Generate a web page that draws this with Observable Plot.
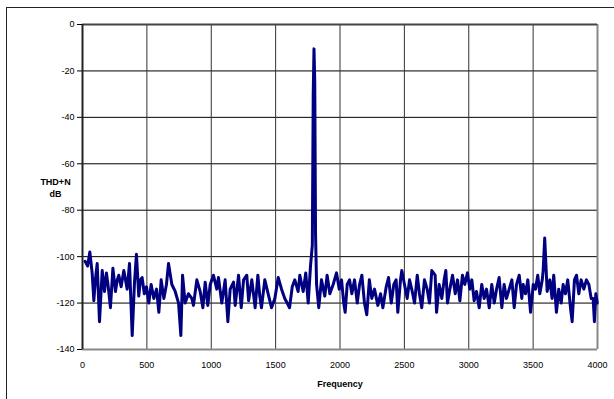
<!DOCTYPE html>
<html>
<head>
<meta charset="utf-8">
<script src="https://cdn.jsdelivr.net/npm/d3@7"></script>
<script src="https://cdn.jsdelivr.net/npm/@observablehq/plot@0.6"></script>
<style>
  html, body { margin: 0; padding: 0; background: #fff; overflow: hidden; }
  #wrap { position: relative; width: 614px; height: 399px; overflow: hidden; }
  #frame { position: absolute; left: 6px; top: 7px; width: 620px; height: 420px; border: 1.5px solid #222; box-sizing: border-box; }
  #chart { position: absolute; left: 0; top: 0; }
</style>
</head>
<body>
<div id="wrap"><div id="frame"></div><div id="chart"></div></div>
<script>
const freq = [20,40,57,75,88,100,114,132,153,171,186,200,217,236,256,270,282,300,321,347,365,386,404,419,437,450,463,480,497,
515,533,554,575,593,611,632,652,668,694,720,746,764,777,797,823,849,862,888,914,935,953,973,992,
1017,1043,1056,1082,1108,1129,1147,1173,1186,1212,1233,1251,1276,1290,1315,1341,1362,1377,1390,1416,1442,1468,1494,
1520,1546,1571,1590,1608,1629,1649,1675,1688,1714,1734,1753,1771,1785,1792,1798,1804,1810,1818,1835,1856,1882,1900,
1921,1947,1973,1994,2012,2029,2040,2056,2074,2092,2113,2134,2152,2170,2190,2208,2228,2247,2268,2294,2315,2333,2359,
2377,2398,2418,2436,2449,2470,2480,2501,2522,2540,2561,2579,2600,2617,2635,2656,2677,2695,2713,2739,2750,2770,2791,
2809,2822,2835,2853,2874,2895,2913,2931,2951,2969,2990,3008,3024,3042,3060,3081,3101,3120,3138,3159,3179,3198,3216,
3236,3257,3275,3293,3314,3335,3353,3371,3392,3412,3423,3441,3459,3480,3501,3518,3536,3552,3571,3578,3590,3599,3609,
3630,3647,3660,3681,3699,3718,3733,3751,3769,3790,3803,3821,3837,3855,3873,3894,3914,3933,3951,3966,3976,3987,3998];
const thdn = [-102,-104,-98,-107,-119,-110,-103,-128,-106,-115,-107,-113,-122,-105,-115,-110,-108,-113,-106,-114,-103,-134,-111,-99,-117,-110,-109,-116,-113,
-120,-112,-118,-114,-124,-110,-118,-112,-103,-112,-115,-120,-134,-108,-120,-116,-118,-121,-110,-115,-122,-111,-121,-112,
-108,-114,-109,-120,-110,-128,-114,-111,-121,-108,-122,-110,-108,-119,-110,-122,-108,-117,-122,-110,-116,-122,-118,
-109,-114,-118,-120,-122,-113,-110,-115,-108,-115,-107,-120,-104,-95,-30,-10.5,-25,-90,-112,-122,-110,-117,-108,
-116,-112,-107,-114,-110,-120,-124,-112,-110,-116,-110,-120,-112,-108,-120,-125,-110,-118,-114,-121,-116,-122,-113,
-109,-120,-112,-110,-124,-110,-106,-112,-118,-110,-115,-120,-108,-116,-122,-110,-114,-120,-106,-108,-124,-112,-118,
-110,-106,-120,-114,-108,-116,-110,-119,-108,-112,-107,-114,-110,-119,-115,-122,-112,-118,-114,-122,-112,-120,-114,
-109,-122,-112,-118,-114,-110,-122,-112,-108,-118,-112,-116,-110,-124,-112,-114,-108,-116,-110,-106,-92,-103,-115,
-110,-118,-108,-124,-114,-120,-112,-116,-110,-122,-128,-110,-108,-116,-110,-114,-110,-112,-118,-118,-128,-116,-120];
const yTicks = [-140,-120,-100,-80,-60,-40,-20,0];
const xTicks = [0,500,1000,1500,2000,2500,3000,3500,4000];
const xTitle = "Frequency";
const yTitle = "THD+N\ndB";

const data = freq.map((f, i) => ({f, v: thdn[i]}));

const chart = Plot.plot({
  width: 614,
  height: 399,
  marginLeft: 82,
  marginRight: 17,
  marginTop: 24,
  marginBottom: 50,
  style: {fontFamily: "'Liberation Sans', Arial, sans-serif", fontSize: "9px", color: "#000", background: "transparent"},
  x: {domain: [0, 4000]},
  y: {domain: [-140, 0]},
  marks: [
    Plot.ruleY(yTicks, {stroke: "#000", strokeWidth: 1}),
    Plot.ruleX(xTicks, {stroke: "#333", strokeWidth: 1}),
    Plot.ruleX([4000], {stroke: "#888", strokeWidth: 2}),
    Plot.ruleY([-140], {stroke: "#888", strokeWidth: 2}),
    Plot.ruleY([0], {stroke: "#444", strokeWidth: 2}),
    Plot.ruleX([0], {stroke: "#222", strokeWidth: 2}),
    Plot.line(data, {x: "f", y: "v", stroke: "#000080", strokeWidth: 3, strokeLinejoin: "round", strokeLinecap: "round"}),
    Plot.axisY({ticks: yTicks, tickSize: 5, tickPadding: 3, tickFormat: d => String(d), label: null, stroke: "#000"}),
    Plot.axisX({ticks: xTicks, tickSize: 0, tickPadding: 12, tickFormat: d => String(d), label: null}),
    Plot.text([xTitle], {text: d => d, frameAnchor: "bottom", dy: 35, fontWeight: "bold", fontSize: 9, lineAnchor: "middle"}),
    Plot.text([yTitle], {text: d => d, frameAnchor: "left", dx: -27, fontWeight: "bold", fontSize: 9, textAnchor: "middle", lineAnchor: "middle", lineHeight: 1.3})
  ]
});
document.getElementById("chart").appendChild(chart);
</script>
</body>
</html>
